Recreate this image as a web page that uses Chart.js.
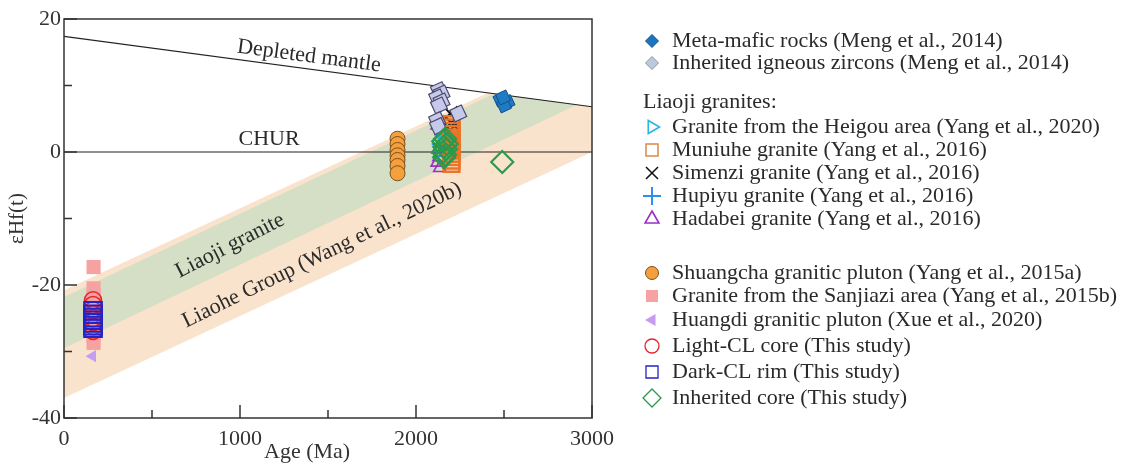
<!DOCTYPE html>
<html><head><meta charset="utf-8">
<script src="https://cdn.jsdelivr.net/npm/chart.js@4.4.0/dist/chart.umd.min.js"></script>
<style>html,body{margin:0;padding:0;background:#fff;overflow:hidden}#wrap{position:relative;width:1127px;height:466px}</style>
</head><body><div id="wrap"><canvas id="c" width="1127" height="466"></canvas></div>
<script>
// ---------- data ----------
const dmAge = [0, 3000];                 const dmHf = [17.4, 6.8];
const churAge = [0, 3000];               const churHf = [0, 0];
const liaoheTopAge = [0, 2410, 3000];    const liaoheTopHf = [-20.8, 8.9, 6.8];
const liaoheBotAge = [0, 3000];          const liaoheBotHf = [-37, 0];
const liaojiTopAge = [0, 2445, 2915];    const liaojiTopHf = [-21.8, 8.8, 7.1];
const liaojiBotAge = [0, 2915];          const liaojiBotHf = [-29.5, 7.1];

const metaMaficAge = [2480, 2520, 2500, 2495];           const metaMaficHf = [7.9, 7.5, 7.0, 8.2];
const inhIgneousAge = [2130, 2145, 2120, 2145, 2130, 2240, 2120, 2125]; const inhIgneousHf = [9.3, 8.8, 8.2, 7.6, 7.0, 5.8, 4.8, 3.9];
const heigouAge = [2140, 2150, 2145];                    const heigouHf = [4.3, 3.0, 1.8];
const muniuheAge = [2202, 2202, 2202, 2202, 2202, 2202, 2202, 2202, 2202, 2202, 2202, 2202, 2202];
const muniuheHf = [4.2, 3.7, 3.2, 2.7, 2.2, 1.7, 1.2, 0.7, 0.2, -0.3, -0.8, -1.3, -1.8];
const simenziAge = [2195, 2200, 2195, 2205, 2200];       const simenziHf = [5.8, 4.4, 3.3, 2.3, 0.9];
const hupiyuAge = [2140, 2150, 2135, 2160];              const hupiyuHf = [3.6, 2.6, 1.2, -0.6];
const hadabeiAge = [2120, 2125, 2130, 2120, 2135];       const hadabeiHf = [4.0, 0.4, -0.8, -1.6, -2.4];
const shuangchaAge = [1895, 1895, 1895, 1895, 1895, 1895, 1895];
const shuangchaHf = [2.0, 1.2, 0.3, -0.5, -1.2, -2.1, -3.2];
const sanjiaziAge = [168, 168, 168, 168, 168, 168, 168, 168, 168, 168];
const sanjiaziHf = [-17.3, -20.5, -21.6, -22.6, -23.6, -24.6, -25.6, -26.6, -27.6, -28.7];
const huangdiAge = [162];                                const huangdiHf = [-30.7];
const lightCoreAge = [165, 165, 165, 165, 165, 165, 165, 165];
const lightCoreHf = [-22.3, -23.0, -23.8, -24.4, -25.0, -25.6, -26.2, -26.9];
const darkRimAge = [165, 165, 165, 165, 165, 165, 165];
const darkRimHf = [-23.9, -24.4, -24.9, -25.3, -25.7, -26.1, -26.5];
const inhCoreAge = [2165, 2155, 2175, 2160, 2170, 2155, 2165, 2160, 2490];
const inhCoreHf = [2.0, 1.6, 1.2, 0.8, 0.4, 0.0, -0.4, -0.8, -1.5];

const xTickLabels = [0, 1000, 2000, 3000];
const yTickLabels = [20, 0, -20, -40];

// ---------- helpers ----------
const FONT = "'Liberation Serif','Times New Roman',serif";
const TXT = '#333';
const pts = (a, h) => a.map((v, i) => ({x: v, y: h[i]}));

function scatter(label, age, hf, st, order) {
  return {
    label, data: pts(age, hf), showLine: false, order,
    pointStyle: st.style, pointRadius: st.r, pointHoverRadius: st.r,
    pointRotation: st.rot || 0,
    pointBackgroundColor: st.fill || 'rgba(0,0,0,0)',
    pointBorderColor: st.stroke || 'rgba(0,0,0,0)',
    pointBorderWidth: st.bw || 0, pointHoverBorderWidth: st.bw || 0
  };
}
function lineDs(label, age, hf, opts, order) {
  return Object.assign({
    label, data: pts(age, hf), order, pointRadius: 0, pointHoverRadius: 0,
    borderWidth: 0, tension: 0, fill: false
  }, opts);
}

const S = {
  meta:   {style: 'rectRot', r: 8, rot: 20, fill: '#1e7cc5', stroke: '#15508a', bw: 1},
  inhIg:  {style: 'rectRot', r: 9, rot: 20, fill: '#c7c9ea', stroke: '#4b4b6e', bw: 1.2},
  heigou: {style: 'triangle', r: 7, rot: 90, stroke: '#2bb5e8', bw: 1.6},
  muniu:  {style: 'rect', r: 11, stroke: '#ec7426', bw: 2.5},
  simen:  {style: 'crossRot', r: 10, stroke: '#111111', bw: 2},
  hupiyu: {style: 'cross', r: 8, stroke: '#2b8ff0', bw: 2},
  hadab:  {style: 'triangle', r: 7, stroke: '#9a2fc8', bw: 1.6},
  shuang: {style: 'circle', r: 7.5, fill: '#f5a03a', stroke: '#7a5020', bw: 1},
  sanj:   {style: 'rect', r: 10, fill: '#f7a2a2'},
  huang:  {style: 'triangle', r: 7, rot: 270, fill: '#c79bf2'},
  light:  {style: 'circle', r: 8.5, stroke: '#e2262a', bw: 1.6},
  dark:   {style: 'rect', r: 12.5, stroke: '#2323c8', bw: 2},
  inhCore:{style: 'rectRot', r: 11, stroke: '#2a9a4c', bw: 2.2}
};

const datasets = [
  scatter('Inherited core (This study)', inhCoreAge, inhCoreHf, S.inhCore, 1),
  scatter('Inherited igneous zircons (Meng et al., 2014)', inhIgneousAge, inhIgneousHf, S.inhIg, 2),
  scatter('Meta-mafic rocks (Meng et al., 2014)', metaMaficAge, metaMaficHf, S.meta, 2),
  scatter('Muniuhe granite (Yang et al., 2016)', muniuheAge, muniuheHf, S.muniu, 4),
  scatter('Simenzi granite (Yang et al., 2016)', simenziAge, simenziHf, S.simen, 4.5),
  scatter('Granite from the Heigou area (Yang et al., 2020)', heigouAge, heigouHf, S.heigou, 5),
  scatter('Hupiyu granite (Yang et al., 2016)', hupiyuAge, hupiyuHf, S.hupiyu, 6),
  scatter('Hadabei granite (Yang et al., 2016)', hadabeiAge, hadabeiHf, S.hadab, 7),
  scatter('Shuangcha granitic pluton (Yang et al., 2015a)', shuangchaAge, shuangchaHf, S.shuang, 4),
  scatter('Dark-CL rim (This study)', darkRimAge, darkRimHf, S.dark, 3),
  scatter('Light-CL core (This study)', lightCoreAge, lightCoreHf, S.light, 5),
  scatter('Huangdi granitic pluton (Xue et al., 2020)', huangdiAge, huangdiHf, S.huang, 8),
  scatter('Granite from the Sanjiazi area (Yang et al., 2015b)', sanjiaziAge, sanjiaziHf, S.sanj, 9),
  lineDs('Depleted mantle', dmAge, dmHf, {borderColor: '#222', borderWidth: 1.2}, 50),
  lineDs('CHUR', churAge, churHf, {borderColor: '#222', borderWidth: 1.2}, 50),
  lineDs('Liaoji top', liaojiTopAge, liaojiTopHf, {fill: '+1', backgroundColor: '#d4dfc6'}, 90),
  lineDs('Liaoji bottom', liaojiBotAge, liaojiBotHf, {}, 91),
  lineDs('Liaohe top', liaoheTopAge, liaoheTopHf, {fill: '+1', backgroundColor: '#fae3cc'}, 100),
  lineDs('Liaohe bottom', liaoheBotAge, liaoheBotHf, {}, 101)
];

// legend layout (drawn with Chart.js point helper)
const legendItems = [
  {t: 'Meta-mafic rocks (Meng et al., 2014)', y: 41, st: {style: 'rectRot', r: 6.5, fill: '#1a74c0', stroke: '#15508a', bw: 1}},
  {t: 'Inherited igneous zircons (Meng et al., 2014)', y: 63, st: {style: 'rectRot', r: 6.5, fill: '#bccadb', stroke: '#8593a3', bw: 1}},
  {t: 'Liaoji granites:', y: 102, header: true},
  {t: 'Granite from the Heigou area (Yang et al., 2020)', y: 127, st: {style: 'triangle', r: 7.5, rot: 90, stroke: '#2bb5e8', bw: 1.6}},
  {t: 'Muniuhe granite (Yang et al., 2016)', y: 150, st: {style: 'rect', r: 8.5, stroke: '#d98a4a', bw: 1.5}},
  {t: 'Simenzi granite (Yang et al., 2016)', y: 173, st: {style: 'crossRot', r: 8.5, stroke: '#111', bw: 1.5}},
  {t: 'Hupiyu granite (Yang et al., 2016)', y: 196, st: {style: 'cross', r: 9, stroke: '#2b8ff0', bw: 2}},
  {t: 'Hadabei granite (Yang et al., 2016)', y: 219, st: {style: 'triangle', r: 8, stroke: '#9a2fc8', bw: 1.6}},
  {t: 'Shuangcha granitic pluton (Yang et al., 2015a)', y: 273, st: {style: 'circle', r: 6.5, fill: '#f5a03a', stroke: '#7a5020', bw: 1}},
  {t: 'Granite from the Sanjiazi area (Yang et al., 2015b)', y: 296, st: {style: 'rect', r: 8.5, fill: '#f7a2a2'}},
  {t: 'Huangdi granitic pluton (Xue et al., 2020)', y: 320, st: {style: 'triangle', r: 7, rot: 270, fill: '#c79bf2'}},
  {t: 'Light-CL core (This study)', y: 346, st: {style: 'circle', r: 7, stroke: '#e2262a', bw: 1.3}},
  {t: 'Dark-CL rim (This study)', y: 372, st: {style: 'rect', r: 8.5, stroke: '#2323c8', bw: 1.3}},
  {t: 'Inherited core (This study)', y: 398, st: {style: 'rectRot', r: 9, stroke: '#2a9a4c', bw: 1.3}}
];

const annotations = [
  {t: 'Depleted mantle', x: 1392, y: 14.4, ang: 7.5},
  {t: 'CHUR', x: 1165, y: 1.9, ang: 0},
  {t: 'Liaoji granite', x: 943, y: -14.1, ang: -27},
  {t: 'Liaohe Group (Wang et al., 2020b)', x: 1466, y: -15.5, ang: -26}
];
const xTitle = {t: 'Age (Ma)', x: 1381};

function fallbackDrawPoint(ctx, o, x, y) {
  const r = o.radius, rad = (o.rotation || 0) * Math.PI / 180;
  ctx.beginPath();
  if (o.pointStyle === 'circle') ctx.arc(x, y, r, 0, 2 * Math.PI);
  else if (o.pointStyle === 'rect') { const s = r * Math.SQRT1_2; ctx.rect(x - s, y - s, 2 * s, 2 * s); }
  else if (o.pointStyle === 'rectRot') { ctx.moveTo(x - r, y); ctx.lineTo(x, y - r); ctx.lineTo(x + r, y); ctx.lineTo(x, y + r); ctx.closePath(); }
  else if (o.pointStyle === 'triangle') { let a = rad; ctx.moveTo(x + Math.sin(a) * r, y - Math.cos(a) * r); a += 2 * Math.PI / 3; ctx.lineTo(x + Math.sin(a) * r, y - Math.cos(a) * r); a += 2 * Math.PI / 3; ctx.lineTo(x + Math.sin(a) * r, y - Math.cos(a) * r); ctx.closePath(); }
  else if (o.pointStyle === 'cross') { ctx.moveTo(x - r, y); ctx.lineTo(x + r, y); ctx.moveTo(x, y - r); ctx.lineTo(x, y + r); }
  else if (o.pointStyle === 'crossRot') { const s = r * Math.SQRT1_2; ctx.moveTo(x - s, y - s); ctx.lineTo(x + s, y + s); ctx.moveTo(x - s, y + s); ctx.lineTo(x + s, y - s); }
  ctx.fill(); if (o.borderWidth > 0) ctx.stroke();
}
const drawPt = (Chart.helpers && Chart.helpers.drawPoint) ? Chart.helpers.drawPoint : fallbackDrawPoint;

const overlay = {
  id: 'overlay',
  afterDraw(chart) {
    const {ctx, chartArea: a, scales: {x, y}} = chart;
    ctx.save();
    // frame
    ctx.strokeStyle = '#333'; ctx.lineWidth = 1.5;
    ctx.strokeRect(a.left, a.top, a.right - a.left, a.bottom - a.top);
    // inward ticks
    ctx.beginPath();
    x.ticks.forEach(t => {
      const px = x.getPixelForValue(t.value);
      const len = xTickLabels.includes(t.value) ? 13 : 8;
      ctx.moveTo(px, a.bottom); ctx.lineTo(px, a.bottom - len);
    });
    y.ticks.forEach(t => {
      const py = y.getPixelForValue(t.value);
      const len = yTickLabels.includes(t.value) ? 13 : 8;
      ctx.moveTo(a.left, py); ctx.lineTo(a.left + len, py);
    });
    ctx.stroke();
    // annotations
    ctx.fillStyle = '#2a2a2a';
    ctx.font = '22px ' + FONT;
    ctx.textAlign = 'center'; ctx.textBaseline = 'middle';
    annotations.forEach(n => {
      ctx.save();
      ctx.translate(x.getPixelForValue(n.x), y.getPixelForValue(n.y));
      ctx.rotate(n.ang * Math.PI / 180);
      ctx.fillText(n.t, 0, 0);
      ctx.restore();
    });
    // x axis title
    ctx.fillStyle = TXT;
    ctx.fillText(xTitle.t, x.getPixelForValue(xTitle.x), 452);
    // legend
    const mx = 652, tx = 672;
    ctx.textAlign = 'left';
    legendItems.forEach(it => {
      ctx.fillStyle = '#2a2a2a';
      if (it.header) { ctx.fillText(it.t, 643, it.y); return; }
      ctx.fillText(it.t, tx, it.y);
      const st = it.st;
      ctx.save();
      ctx.fillStyle = st.fill || 'rgba(0,0,0,0)';
      ctx.strokeStyle = st.stroke || 'rgba(0,0,0,0)';
      ctx.lineWidth = st.bw || 0;
      drawPt(ctx, {pointStyle: st.style, radius: st.r, rotation: st.rot || 0, borderWidth: st.bw || 0}, mx, it.y);
      ctx.restore();
    });
    ctx.restore();
  }
};

new Chart(document.getElementById('c'), {
  type: 'line',
  data: {datasets},
  plugins: [overlay],
  options: {
    responsive: false, animation: false, events: [],
    layout: {padding: {left: 0, right: 535, top: 19, bottom: 0}},
    plugins: {legend: {display: false}, tooltip: {enabled: false}, filler: {propagate: false}},
    scales: {
      x: {
        type: 'linear', min: 0, max: 3000,
        grid: {display: false, drawTicks: false}, border: {display: false},
        ticks: {stepSize: 500, autoSkip: false, maxRotation: 0, padding: 8, color: TXT,
          font: {family: FONT, size: 22},
          callback: v => xTickLabels.includes(v) ? String(v) : ''},
        title: {display: false},
        afterFit(s) { s.height = 48; }
      },
      y: {
        type: 'linear', min: -40, max: 20,
        grid: {display: false, drawTicks: false}, border: {display: false},
        ticks: {stepSize: 10, autoSkip: false, padding: 3, color: TXT,
          font: {family: FONT, size: 22},
          callback: v => yTickLabels.includes(v) ? String(v) : ''},
        title: {display: true, text: 'εHf(t)', color: TXT, font: {family: FONT, size: 21}, padding: {top: 5, bottom: 0}},
        afterFit(s) { s.width = 64; }
      }
    }
  }
});
</script></body></html>
